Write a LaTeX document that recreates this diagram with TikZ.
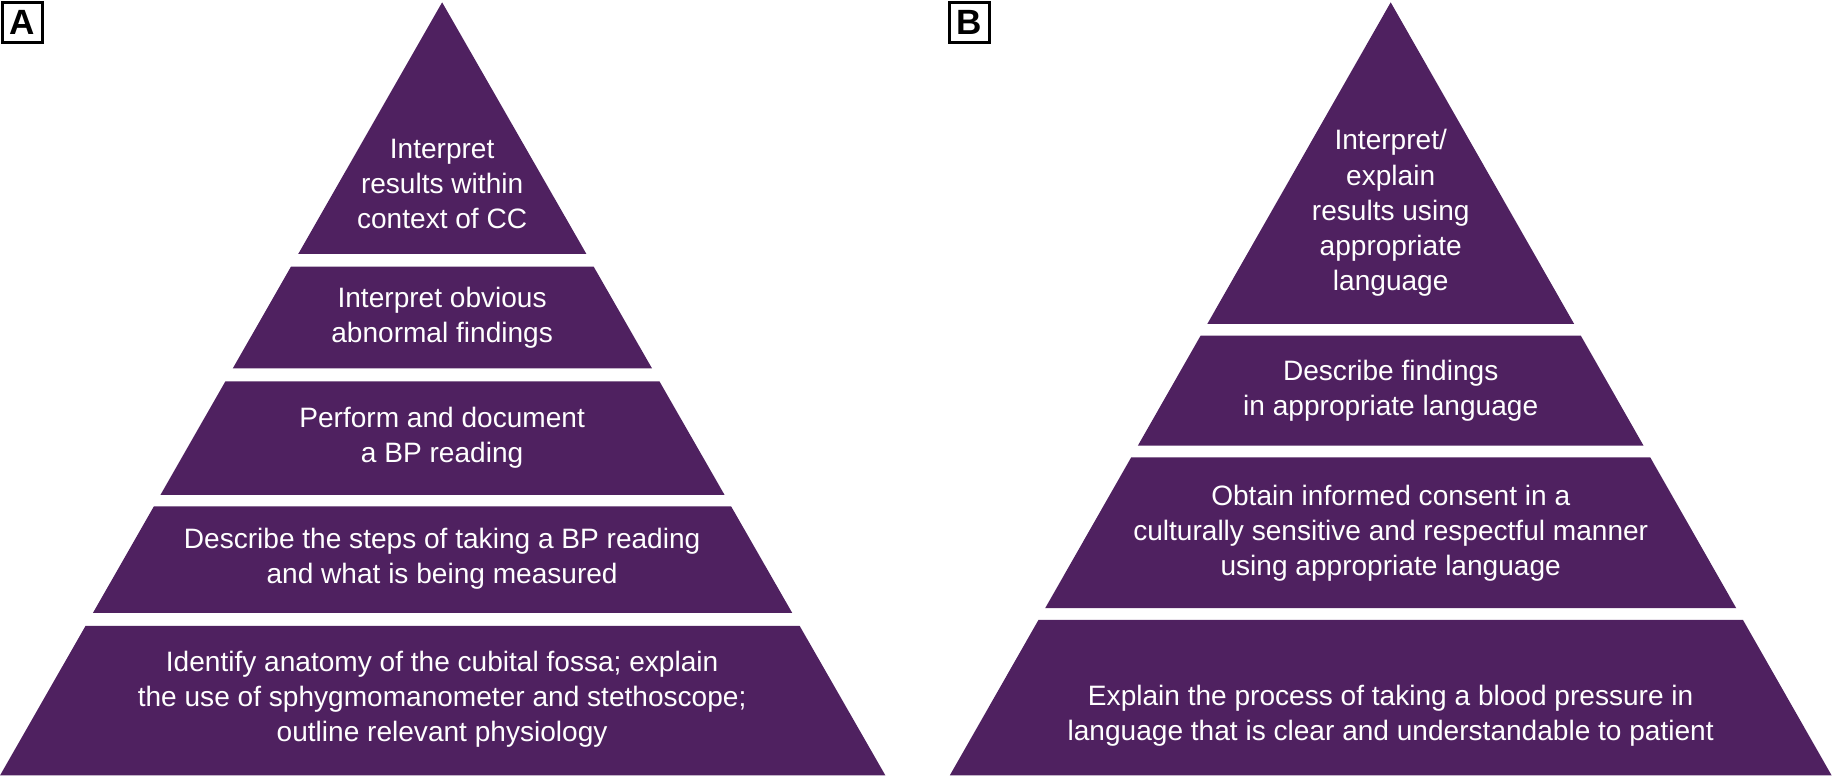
\documentclass[tikz,border=0pt]{standalone}
\usepackage{fontspec}
\setmainfont{Liberation Sans}
\definecolor{pyr}{HTML}{4F2160}
\begin{document}
\begin{tikzpicture}[x=0.5pt,y=-0.5pt,
  lbl/.style={text=white,align=center,font=\fontsize{12}{15}\selectfont},
  tag/.style={draw=black,line width=1.2pt,minimum size=17pt,inner sep=0pt,font=\bfseries\fontsize{15}{15}\selectfont}]
\useasboundingbox (0,0) rectangle (1568,663);
\begin{scope}
\clip (378,2) -- (757,663) -- (0,663) -- cycle;
\fill[pyr] (0,0) rectangle (800,217) (0,228) rectangle (800,315) (0,326) rectangle (800,423) (0,433) rectangle (800,524) (0,535) rectangle (800,663);
\end{scope}
\begin{scope}
\clip (1189,2) -- (1566,663) -- (812,663) -- cycle;
\fill[pyr] (800,0) rectangle (1568,277) (800,287) rectangle (1568,381) (800,391) rectangle (1568,520) (800,530) rectangle (1568,663);
\end{scope}
\node[tag] (ta) at (19,19) {A};
\node[tag] (tb) at (829,19) {B};
\node[lbl] (a1) at (378,157) {Interpret\\results within\\context of CC};
\node[lbl] (a2) at (378,272) {Interpret obvious\\abnormal findings};
\node[lbl] (a3) at (378,374) {Perform and document\\a BP reading};
\node[lbl] (a4) at (378,478) {Describe the steps of taking a BP reading\\and what is being measured};
\node[lbl] (a5) at (378,598) {Identify anatomy of the cubital fossa; explain\\the use of sphygmomanometer and stethoscope;\\outline relevant physiology};
\node[lbl] (b1) at (1189,182) {Interpret/\\explain\\results using\\appropriate\\language};
\node[lbl] (b2) at (1189,334) {Describe findings\\in appropriate language};
\node[lbl] (b3) at (1189,456) {Obtain informed consent in a\\culturally sensitive and respectful manner\\using appropriate language};
\node[lbl] (b4) at (1189,612) {Explain the process of taking a blood pressure in\\language that is clear and understandable to patient};
\end{tikzpicture}
\end{document}
